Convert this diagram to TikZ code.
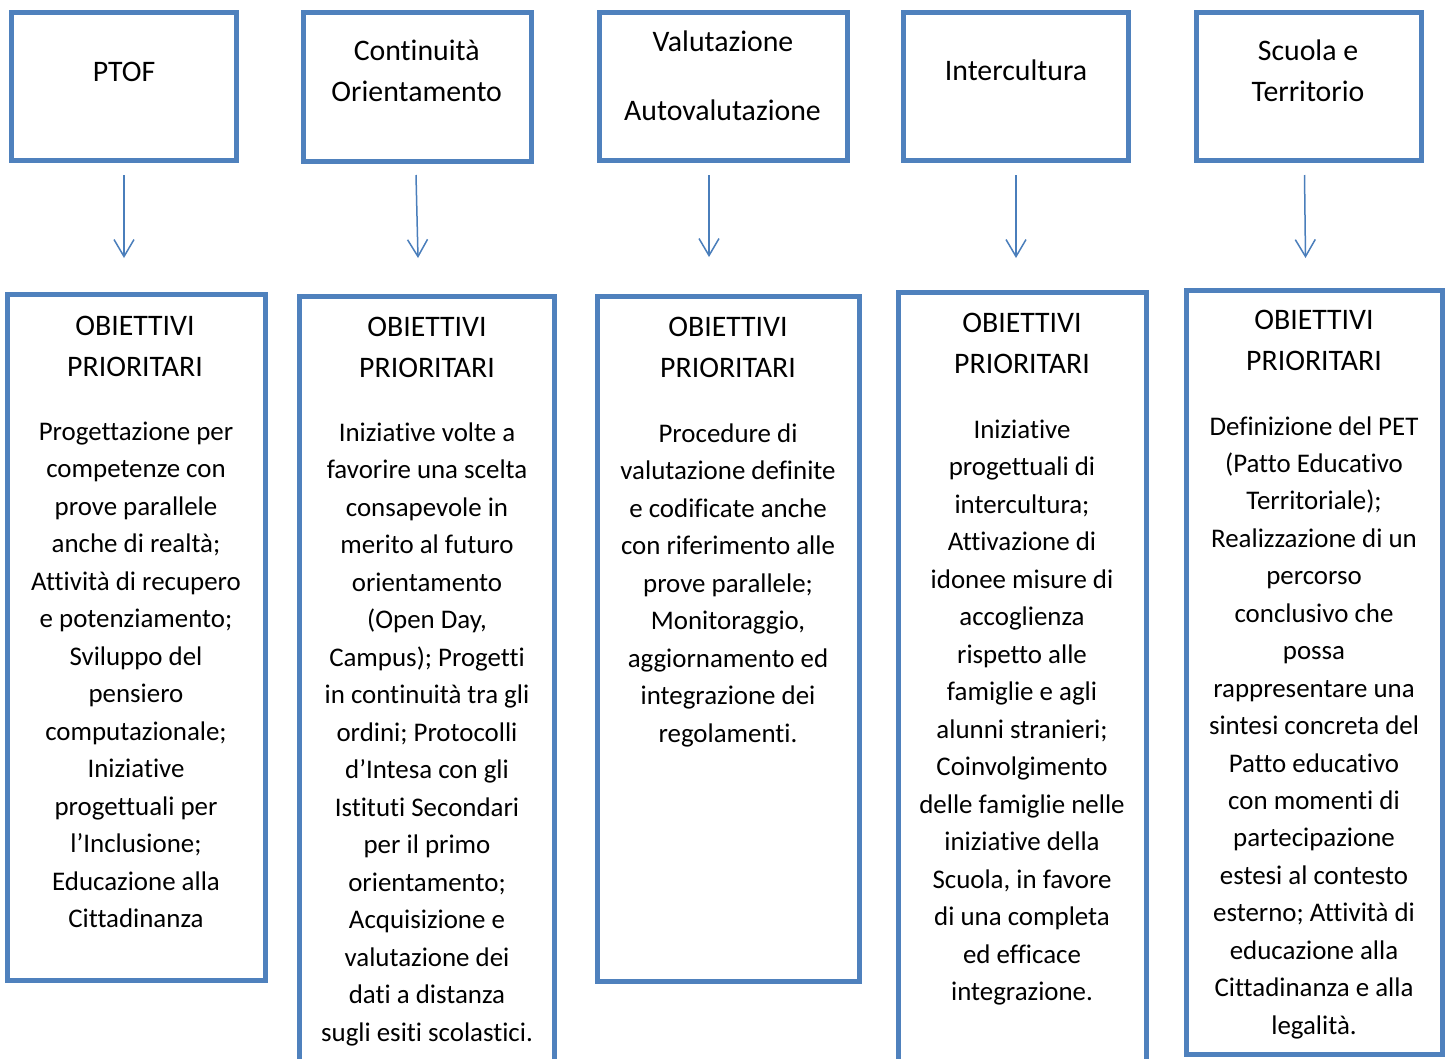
\documentclass[tikz,border=0pt]{standalone}
\usepackage{fontspec}
\setmainfont{Carlito}[RawFeature={-liga;-clig}]
\usetikzlibrary{arrows.meta}
\definecolor{boxblue}{HTML}{4F81BD}
\definecolor{arrblue}{HTML}{4A7EBB}
\begin{document}
\begin{tikzpicture}[x=1pt,y=-1pt,
  box/.style={draw=boxblue,line width=5pt,rectangle,inner sep=0pt},
  txt/.style={anchor=base,inner sep=0pt,font=\fontsize{26.9}{33}\selectfont},
  ttl/.style={anchor=base,inner sep=0pt,font=\fontsize{29.8}{35}\selectfont},
  link/.style={draw=arrblue,line width=1.5pt,-{Straight Barb[length=17pt,width=20pt]}}]
\clip (0,0) rectangle (1447,1058);
\fill[white] (0,0) rectangle (1447,1058);

% top boxes
\node[box,minimum width=225pt,minimum height=148pt] (T1) at (124,86.5) {};
\node[box,minimum width=228pt,minimum height=149pt] (T2) at (417.5,87) {};
\node[box,minimum width=247.5pt,minimum height=148pt] (T3) at (723.25,86.5) {};
\node[box,minimum width=224.5pt,minimum height=148pt] (T4) at (1015.75,86.5) {};
\node[box,minimum width=225.5pt,minimum height=148pt] (T5) at (1308.75,86.5) {};

% bottom boxes
\node[box,minimum width=257.5pt,minimum height=685.5pt] (B1) at (136.25,637.25) {};
\node[box,minimum width=255pt,minimum height=801pt] (B2) at (427,697) {};
\node[box,minimum width=261.5pt,minimum height=684.5pt] (B3) at (728.25,638.75) {};
\node[box,minimum width=248.5pt,minimum height=805.5pt] (B4) at (1022.25,694.75) {};
\node[box,minimum width=255.5pt,minimum height=764.5pt] (B5) at (1314.25,672.25) {};

% top texts
\node[ttl] (t1a) at (124,81.7) {PTOF};
\node[ttl] (t2a) at (416.7,60) {Continuità};
\node[ttl] (t2b) at (416.7,101.7) {Orientamento};
\node[ttl] (t3a) at (723,51.7) {Valutazione};
\node[ttl] (t3b) at (722.5,120) {Autovalutazione};
\node[ttl] (t4a) at (1016,80) {Intercultura};
\node[ttl] (t5a) at (1308,60) {Scuola e};
\node[ttl] (t5b) at (1308,101.7) {Territorio};

% arrows
\coordinate (a1s) at (124,175);  \coordinate (a1e) at (124,258);
\coordinate (a2s) at (416,175);  \coordinate (a2e) at (418,258);
\coordinate (a3s) at (709,175);  \coordinate (a3e) at (709,257);
\coordinate (a4s) at (1016,175); \coordinate (a4e) at (1016,258);
\coordinate (a5s) at (1304.5,175); \coordinate (a5e) at (1305.5,258);
\foreach \k in {1,...,5} \draw[link] (a\k s) -- (a\k e);

% titles
\node[ttl] (o1) at (135,335.7) {OBIETTIVI};
\node[ttl] (p1) at (135,376.2) {PRIORITARI};
\node[ttl] (o2) at (427,336.7) {OBIETTIVI};
\node[ttl] (p2) at (427,377.2) {PRIORITARI};
\node[ttl] (o3) at (728,336.7) {OBIETTIVI};
\node[ttl] (p3) at (728,377.2) {PRIORITARI};
\node[ttl] (o4) at (1022,332.7) {OBIETTIVI};
\node[ttl] (p4) at (1022,373.2) {PRIORITARI};
\node[ttl] (o5) at (1314,329.7) {OBIETTIVI};
\node[ttl] (p5) at (1314,370.2) {PRIORITARI};

% body texts
\foreach \t [count=\i from 0] in {{Progettazione per},{competenze con},{prove parallele},{anche di realtà;},{Attività di recupero},{e potenziamento;},{Sviluppo del},{pensiero},{computazionale;},{Iniziative},{progettuali per},{l’Inclusione;},{Educazione alla},{Cittadinanza}}
  \node[txt] (b1l\i) at (136,440+37.5*\i) {\t};

\foreach \t [count=\i from 0] in {{Iniziative volte a},{favorire una scelta},{consapevole in},{merito al futuro},{orientamento},{(Open Day,},{Campus); Progetti},{in continuità tra gli},{ordini; Protocolli},{d’Intesa con gli},{Istituti Secondari},{per il primo},{orientamento;},{Acquisizione e},{valutazione dei},{dati a distanza},{sugli esiti scolastici.}}
  \node[txt] (b2l\i) at (427,441+37.5*\i) {\t};

\foreach \t [count=\i from 0] in {{Procedure di},{valutazione definite},{e codificate anche},{con riferimento alle},{prove parallele;},{Monitoraggio,},{aggiornamento ed},{integrazione dei},{regolamenti.}}
  \node[txt] (b3l\i) at (728,442+37.5*\i) {\t};

\foreach \t [count=\i from 0] in {{Iniziative},{progettuali di},{intercultura;},{Attivazione di},{idonee misure di},{accoglienza},{rispetto alle},{famiglie e agli},{alunni stranieri;},{Coinvolgimento},{delle famiglie nelle},{iniziative della},{Scuola, in favore},{di una completa},{ed efficace},{integrazione.}}
  \node[txt] (b4l\i) at (1022,438+37.5*\i) {\t};

\foreach \t [count=\i from 0] in {{Definizione del PET},{(Patto Educativo},{Territoriale);},{Realizzazione di un},{percorso},{conclusivo che},{possa},{rappresentare una},{sintesi concreta del},{Patto educativo},{con momenti di},{partecipazione},{estesi al contesto},{esterno; Attività di},{educazione alla},{Cittadinanza e alla},{legalità.}}
  \node[txt] (b5l\i) at (1314,435+37.45*\i) {\t};
\end{tikzpicture}
\end{document}
